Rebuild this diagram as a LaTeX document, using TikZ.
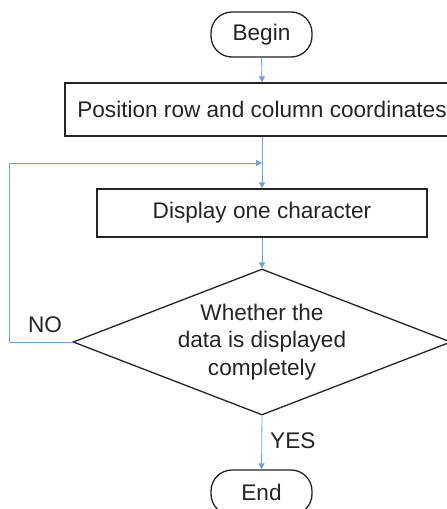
\documentclass[tikz,border=0pt]{standalone}
\usepackage{fontspec}
\setmainfont{Liberation Sans}
\usetikzlibrary{shapes.geometric,arrows.meta}
\definecolor{flowblue}{RGB}{110,160,235}
\definecolor{inkc}{RGB}{34,36,40}
\begin{document}
\begin{tikzpicture}[x=1pt,y=-1pt,
  every node/.style={font=\fontsize{22.6}{27.5}\selectfont, text=inkc},
  term/.style={draw=inkc, line width=1.3pt, rectangle, rounded corners=21pt, minimum width=101pt, minimum height=45pt, inner sep=0pt},
  procbox/.style={draw=inkc, line width=1.3pt, rectangle, inner sep=0pt},
  decis/.style={draw=inkc, line width=1.3pt, diamond, aspect=2.59, minimum width=378pt, minimum height=146pt, inner sep=0pt},
  conn/.style={draw=flowblue, line width=0.8pt},
  arr/.style={conn, -{Triangle[width=6pt,length=6pt]}},
  lbl/.style={inner sep=0pt}
]
\useasboundingbox (0,0) rectangle (447,509);
\node[term] (begin) at (261.5,34.5) {Begin};
\node[procbox, minimum width=394pt, minimum height=53pt] (pos) at (262,109.5) {Position row and column coordinates};
\node[procbox, minimum width=330pt, minimum height=48pt] (disp) at (262,213) {Display one character};
\node[decis] (dec) at (262,342) {};
\node[lbl, align=center] (dtext) at (262,342) {Whether the\\data is displayed\\completely};
\node[term] (end) at (261.5,492.5) {End};
\coordinate (j) at (262,163);
\coordinate (c1) at (9,342);
\coordinate (c2) at (9,163);
\node[lbl] (no) at (45,325) {NO};
\node[lbl, anchor=west] (yes) at (270,441) {YES};

\draw[arr] (begin.south) -- (pos.north);
\draw[arr] (pos.south) -- (disp.north);
\draw[arr] (disp.south) -- (dec.north);
\draw[arr] (dec.south) -- (end.north);
\draw[arr] (dec.west) -- (c1) -- (c2) -- (j);
\end{tikzpicture}
\end{document}
